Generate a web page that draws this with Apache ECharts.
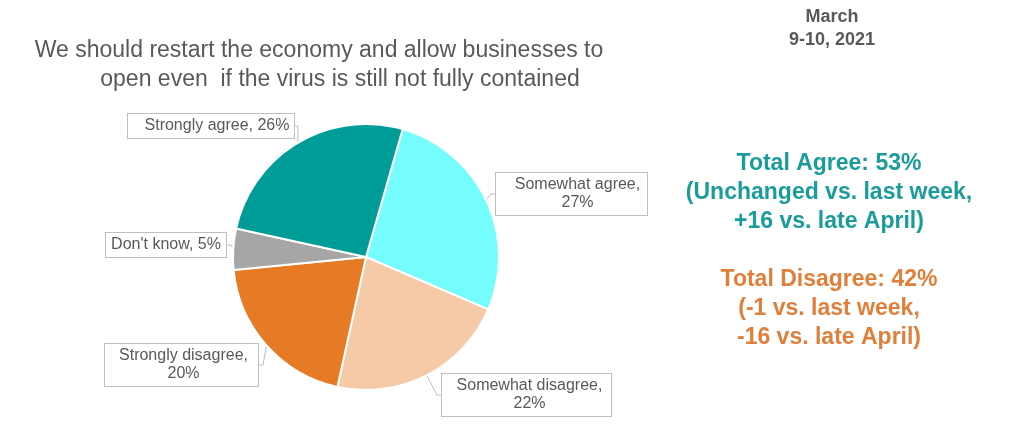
<!DOCTYPE html>
<html>
<head>
<meta charset="utf-8">
<script src="https://cdn.jsdelivr.net/npm/echarts@6/dist/echarts.min.js"></script>
<style>
html,body{margin:0;padding:0;background:#fff;}
#main{width:1017px;height:445px;}
</style>
</head>
<body>
<div id="main"></div>
<script>
const categories = ['Somewhat agree', 'Somewhat disagree', 'Strongly disagree', "Don't know", 'Strongly agree'];
const values = [27, 22, 20, 5, 26];
const colors = ['#75FDFD', '#F6C9A7', '#E77A24', '#A6A6A6', '#009C98'];
const wrapLabel = [true, true, true, false, false];
const titleLines = ['We should restart the economy and allow businesses to', 'open even  if the virus is still not fully contained'];
const dateLines = ['March', '9-10, 2021'];
const agreeLines = ['Total Agree: 53%', '(Unchanged vs. last week,', '+16 vs. late April)'];
const disagreeLines = ['Total Disagree: 42%', '(-1 vs. last week,', '-16 vs. late April)'];

// label box layout: left x, top y, content width, left/right padding
const labelBoxes = [
  {left: 496, top: 173, w: 133, pl: 15, pr: 3},
  {left: 442, top: 374, w: 153, pl: 11, pr: 5},
  {left: 105, top: 344, w: 141, pl: 8, pr: 4},
  {left: 106, top: 233, w: 112, pl: 4, pr: 4},
  {left: 128, top: 114, w: 148, pl: 15, pr: 3}
];

const chart = echarts.init(document.getElementById('main'), null, {renderer: 'canvas'});
const font = '"Liberation Sans", Arial, sans-serif';

function textLine(t, cx, y, size, color, weight) {
  return {
    type: 'text', x: cx, y: y,
    style: {text: t, fill: color, font: weight + ' ' + size + 'px ' + font, textAlign: 'center', textVerticalAlign: 'middle'}
  };
}
function textBlock(lines, cx, y0, lh, size, color, weight) {
  return lines.map((t, i) => textLine(t, cx, y0 + i * lh, size, color, weight));
}

const graphics = [
  textLine(titleLines[0], 319, 51, 23, '#595959', 'normal'),
  textLine(titleLines[1], 340, 80, 23, '#595959', 'normal')
]
  .concat(textBlock(dateLines, 832, 17, 23, 18, '#595959', 'bold'))
  .concat(textBlock(agreeLines, 829, 164, 29, 23, '#1A9C9B', 'bold'))
  .concat(textBlock(disagreeLines, 829, 280, 29, 23, '#E07F3A', 'bold'));

chart.setOption({
  animation: false,
  backgroundColor: '#ffffff',
  graphic: graphics,
  series: [{
    type: 'pie',
    center: [366, 257],
    radius: 133,
    startAngle: 74,
    clockwise: true,
    itemStyle: {borderColor: '#ffffff', borderWidth: 2},
    label: {
      show: true,
      position: 'outside',
      fontFamily: font,
      fontSize: 16,
      color: '#595959',
      lineHeight: 18,
      align: 'center',
      overflow: 'none',
      backgroundColor: '#ffffff',
      borderColor: '#BFBFBF',
      borderWidth: 1,
      formatter: p => p.name + ',' + (wrapLabel[p.dataIndex] ? '\n' : ' ') + p.value + '%'
    },
    labelLine: {show: true, length: 6, length2: 4, lineStyle: {color: '#BFBFBF', width: 1}},
    labelLayout: function (params) {
      const b = labelBoxes[params.dataIndex];
      return {x: b.left + (b.w + b.pl + b.pr) / 2, y: b.top, align: 'center', verticalAlign: 'top'};
    },
    data: categories.map((c, i) => ({
      name: c, value: values[i],
      itemStyle: {color: colors[i]},
      label: {width: labelBoxes[i].w, padding: [3, labelBoxes[i].pr, 3, labelBoxes[i].pl]}
    }))
  }]
});
</script>
</body>
</html>
